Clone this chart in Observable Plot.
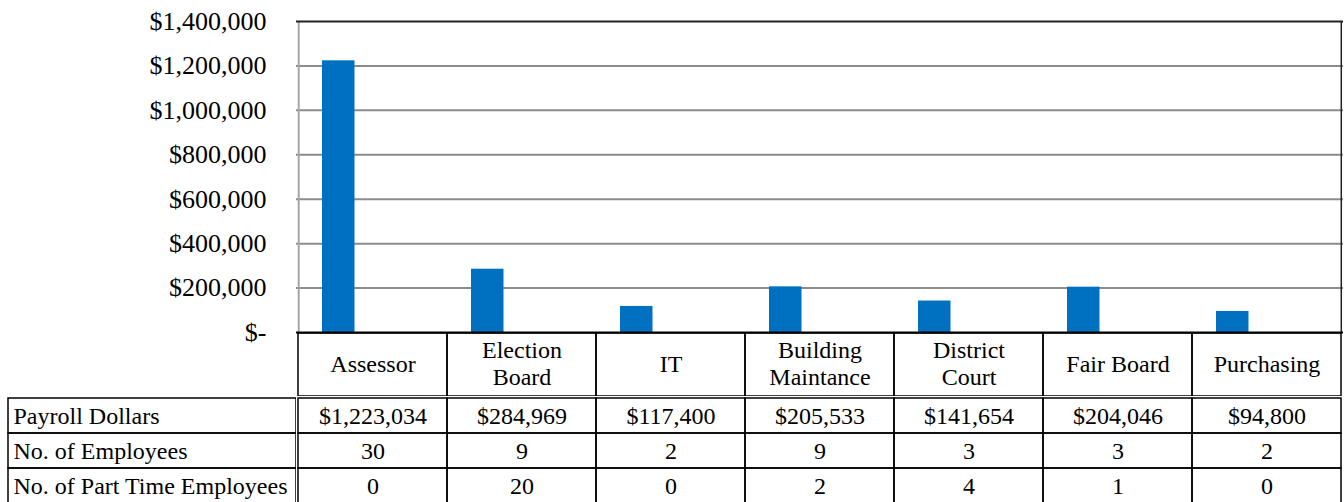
<!DOCTYPE html>
<html>
<head>
<meta charset="utf-8">
<script src="https://cdn.jsdelivr.net/npm/d3@7"></script>
<script src="https://cdn.jsdelivr.net/npm/@observablehq/plot@0.6"></script>
<style>
  body { margin: 0; background: #fff; }
  #chart { width: 1344px; }
  #chart svg { display: block; }
  .row { display: flex; }
</style>
</head>
<body>
<div id="chart"></div>
<script>
const departments = ["Assessor", "Election Board", "IT", "Building Maintance", "District Court", "Fair Board", "Purchasing"];
const headerLabels = ["Assessor", "Election\nBoard", "IT", "Building\nMaintance", "District\nCourt", "Fair Board", "Purchasing"];
const payroll = [1223034, 284969, 117400, 205533, 141654, 204046, 94800];
const employees = [30, 9, 2, 9, 3, 3, 2];
const partTime = [0, 20, 0, 2, 4, 1, 0];
const rowLabels = ["Payroll Dollars", "No. of Employees", "No. of Part Time Employees"];
const yMax = 1400000;

const FONT = "'Liberation Serif', 'Times New Roman', serif";
const fmtComma = d3.format(",");
const fmtDollar = d => d === 0 ? "$-" : "$" + fmtComma(d);

const table = departments.map((dept, i) => ({dept, label: headerLabels[i], payroll: payroll[i], employees: employees[i], partTime: partTime[i]}));
const cells = [];
table.forEach(d => {
  cells.push({dept: d.dept, row: rowLabels[0], text: "$" + fmtComma(d.payroll)});
  cells.push({dept: d.dept, row: rowLabels[1], text: String(d.employees)});
  cells.push({dept: d.dept, row: rowLabels[2], text: String(d.partTime)});
});

const W = 1344, ML = 296, MR = 1;
const bw = (W - ML - MR) / departments.length;

const chartA = Plot.plot({
  width: W, height: 333,
  marginTop: 21, marginBottom: 1, marginLeft: ML, marginRight: MR,
  style: {fontFamily: FONT, fontSize: "26px", color: "#000", background: "#fff", overflow: "visible"},
  x: {type: "band", domain: departments, padding: 0, axis: null},
  y: {domain: [0, yMax], ticks: 7, tickFormat: fmtDollar, tickSize: 0, tickPadding: 30, label: null},
  marks: [
    Plot.ruleY(d3.range(200000, yMax, 200000), {stroke: "#8c8c8c", strokeWidth: 2}),
    Plot.ruleX([departments[0]], {x: d => d, dx: -bw / 2 + 0.5, stroke: "#a6a6a6", strokeWidth: 2}),
    Plot.barY(table, {x: "dept", y: "payroll", fill: "#0070C0", insetLeft: 24, insetRight: 92.5}),
    Plot.ruleY([yMax], {stroke: "#222", strokeWidth: 2}),
    Plot.ruleX([departments[departments.length - 1]], {x: d => d, dx: bw / 2 - 0.5, stroke: "#222", strokeWidth: 1.5}),
    Plot.ruleY([0], {stroke: "#000", strokeWidth: 2})
  ]
});

const chartH = Plot.plot({
  width: W, height: 63,
  marginTop: 0, marginBottom: 0, marginLeft: ML, marginRight: MR,
  style: {fontFamily: FONT, fontSize: "24px", color: "#000", background: "transparent"},
  x: {type: "band", domain: departments, padding: 0, axis: null},
  marks: [
    Plot.cell(table, {x: "dept", fill: "none", stroke: "#000", strokeWidth: 1.5}),
    Plot.text(table, {x: "dept", text: "label", fontSize: 24, lineHeight: 1.12, frameAnchor: "middle", dy: -2, fill: "#000"})
  ]
});

const chartL = Plot.plot({
  width: ML, height: 107,
  marginTop: 1, marginBottom: 0, marginLeft: 8, marginRight: 0,
  style: {fontFamily: FONT, fontSize: "24px", color: "#000", background: "#fff"},
  y: {type: "band", domain: rowLabels, padding: 0, axis: null},
  marks: [
    Plot.cell(rowLabels, {y: d => d, fill: "none", stroke: "#000", strokeWidth: 1.5}),
    Plot.text(rowLabels, {y: d => d, text: d => d, frameAnchor: "left", textAnchor: "start", dx: 5, fontSize: 24, fill: "#000"})
  ]
});

const chartT = Plot.plot({
  width: W - ML, height: 107,
  marginTop: 1, marginBottom: 0, marginLeft: 0, marginRight: MR,
  style: {fontFamily: FONT, fontSize: "24px", color: "#000", background: "#fff"},
  x: {type: "band", domain: departments, padding: 0, axis: null},
  y: {type: "band", domain: rowLabels, padding: 0, axis: null},
  marks: [
    Plot.cell(cells, {x: "dept", y: "row", fill: "none", stroke: "#000", strokeWidth: 1.5}),
    Plot.text(cells, {x: "dept", y: "row", text: "text", fontSize: 24, fill: "#000"})
  ]
});

const root = document.getElementById("chart");
root.appendChild(chartA);
root.appendChild(chartH);
const row = document.createElement("div");
row.className = "row";
row.appendChild(chartL);
row.appendChild(chartT);
root.appendChild(row);
</script>
</body>
</html>
